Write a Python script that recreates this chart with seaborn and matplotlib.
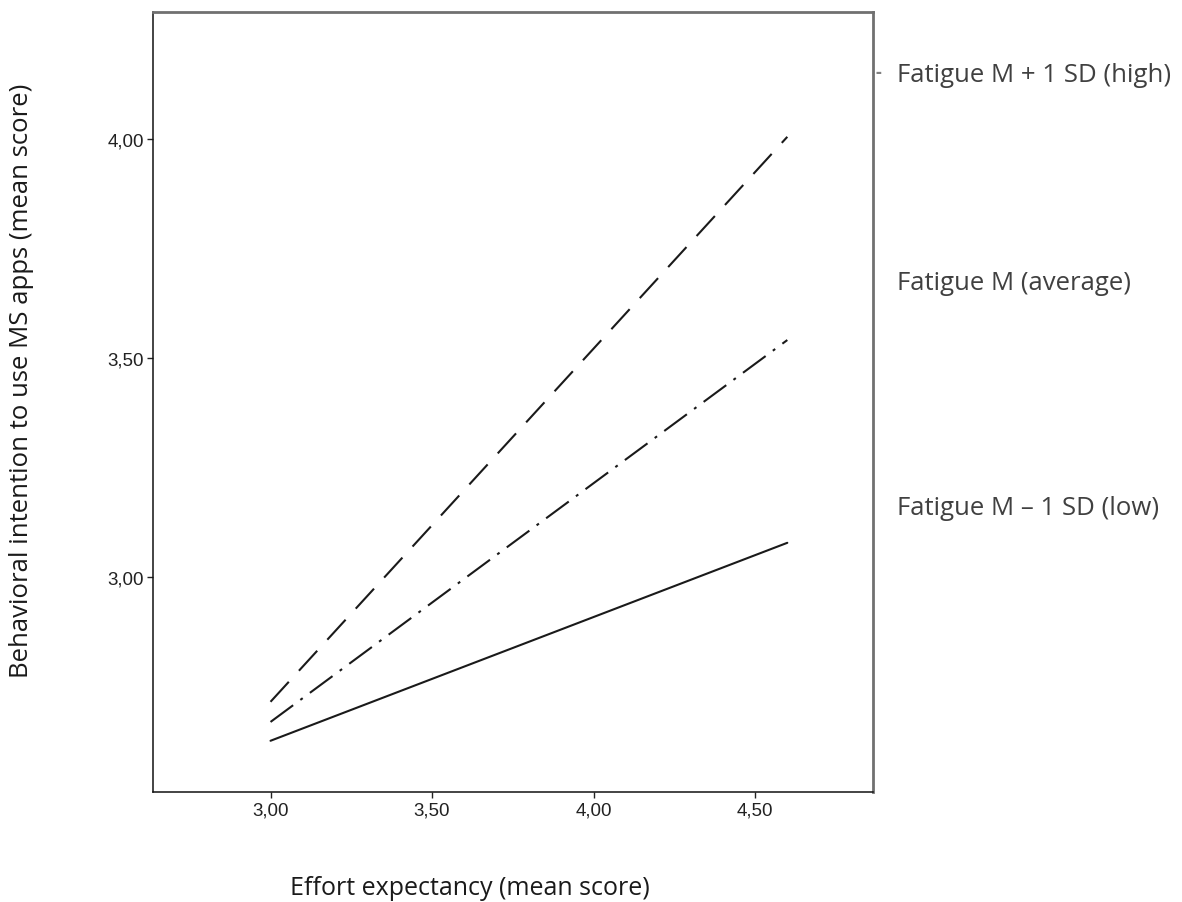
#!/usr/bin/env python3
import matplotlib

matplotlib.use("Agg")

import matplotlib.pyplot as plt
import pandas as pd
import seaborn as sns

sns.set_style("white")
plt.rcParams["font.family"] = ["Open Sans", "DejaVu Sans"]

# Values
effort = [3.00, 4.60]
fatigue_high = [2.715, 4.005]
fatigue_avg = [2.669, 3.541]
fatigue_low = [2.626, 3.078]

group_names = ["high", "average", "low"]
right_labels = [
    "Fatigue M + 1 SD (high)",
    "Fatigue M (average)",
    "Fatigue M \u2013 1 SD (low)",
]

x_ticks = [3.0, 3.5, 4.0, 4.5]
x_tick_labels = ["3,00", "3,50", "4,00", "4,50"]
y_ticks = [3.0, 3.5, 4.0]
y_tick_labels = ["3,00", "3,50", "4,00"]

df = pd.DataFrame(
    {
        "effort": effort * 3,
        "intention": fatigue_high + fatigue_avg + fatigue_low,
        "group": [g for g in group_names for _ in effort],
    }
)

fig = plt.figure(figsize=(11.82, 9.03), dpi=100)
ax = fig.add_axes([0.1294, 0.1218, 0.6091, 0.8638])

sns.lineplot(
    data=df,
    x="effort",
    y="intention",
    style="group",
    style_order=group_names,
    dashes={"high": (13, 7.2), "average": (13.5, 4.3, 1.4, 4.3), "low": ""},
    color="#1a1a1a",
    linewidth=1.5,
    legend=False,
    ax=ax,
)

ax.set_xlim(2.636, 4.865)
ax.set_ylim(2.509, 4.29)

ax.set_xticks(x_ticks)
ax.set_xticklabels(x_tick_labels)
ax.set_yticks(y_ticks)
ax.set_yticklabels(y_tick_labels)
ax.tick_params(
    direction="out", length=4.5, width=1, color="#222222",
    labelsize=13.5, labelcolor="#222222", bottom=True, left=True, pad=2,
)
for lab in ax.get_xticklabels() + ax.get_yticklabels():
    lab.set_family("Liberation Sans")

ax.set_xlabel("")
ax.set_ylabel("")

for side in ["left", "bottom"]:
    ax.spines[side].set_color("#111111")
    ax.spines[side].set_linewidth(1.1)
for side in ["top", "right"]:
    ax.spines[side].set_color("#707070")
    ax.spines[side].set_linewidth(2)

# Axis titles
fig.text(470 / 1182, 1 - 889 / 903, "Effort expectancy (mean score)",
         ha="center", va="center", fontsize=18, color="#1a1a1a")
fig.text(22 / 1182, 1 - 381 / 903,
         "Behavioral intention to use MS apps (mean score)",
         ha="center", va="center", rotation=90, fontsize=18.5, color="#1a1a1a")

# Labels to the right of the plot
label_y = [75, 284, 509]
for txt, yy in zip(right_labels, label_y):
    fig.text(897 / 1182, 1 - yy / 903, txt, ha="left", va="center",
             fontsize=18.5, color="#404040")
fig.text(875 / 1182, 1 - 73 / 903, "-", ha="left", va="center",
         fontsize=13, fontweight="bold", color="#808080")

fig.savefig("out.png", dpi=100)
plt.close(fig)
